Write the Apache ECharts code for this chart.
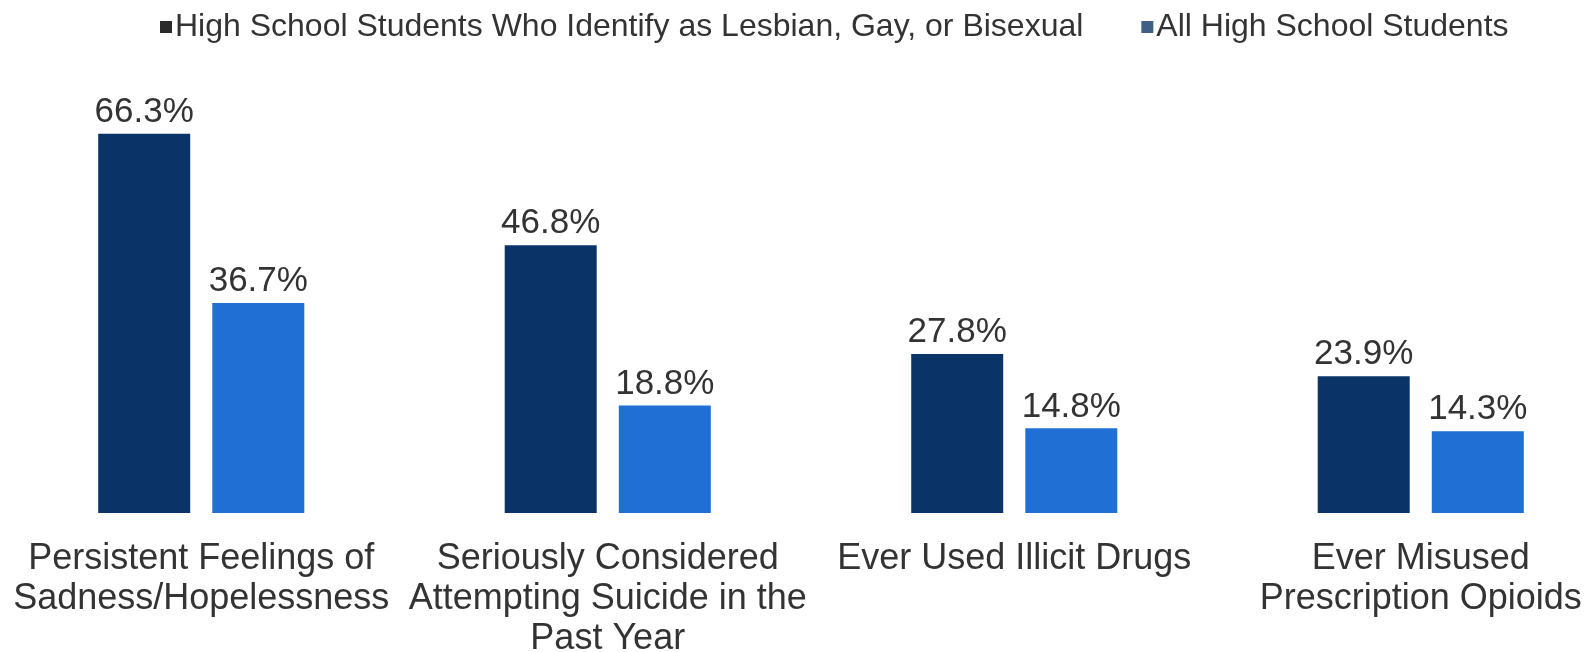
<!DOCTYPE html>
<html>
<head>
<meta charset="utf-8">
<script src="https://cdn.jsdelivr.net/npm/echarts@6/dist/echarts.min.js"></script>
<style>
  html, body { margin: 0; padding: 0; background: #ffffff; overflow: hidden; }
  #chart { width: 1589px; height: 652px; }
</style>
</head>
<body>
<div id="chart"></div>
<script>
// Risk behaviours: LGB high school students vs. all high school students (%)
const categories = [
  'Persistent Feelings of\nSadness/Hopelessness',
  'Seriously Considered\nAttempting Suicide in the\nPast Year',
  'Ever Used Illicit Drugs',
  'Ever Misused\nPrescription Opioids'
];
const seriesNames = [
  'High School Students Who Identify as Lesbian, Gay, or Bisexual',
  'All High School Students'
];
const lgbValues = [66.3, 46.8, 27.8, 23.9];
const allValues = [36.7, 18.8, 14.8, 14.3];

const textColor = '#333333';
const font = '"Liberation Sans", Arial, sans-serif';

const chart = echarts.init(document.getElementById('chart'));

const valueLabel = {
  show: true,
  position: 'top',
  distance: 4,
  color: textColor,
  fontFamily: font,
  fontSize: 35,
  formatter: p => p.value.toFixed(1) + '%'
};

chart.setOption({
  animation: false,
  backgroundColor: '#ffffff',
  legend: {
    left: 155,
    top: 6,
    itemWidth: 12,
    itemHeight: 12,
    itemGap: 58,
    icon: 'rect',
    textStyle: {
      color: textColor,
      fontFamily: font,
      fontSize: 32,
      padding: [0, 0, 0, -2]
    },
    data: [
      { name: seriesNames[0], itemStyle: { color: '#2b2b2b' } },
      { name: seriesNames[1], itemStyle: { color: '#3f5f86' } }
    ]
  },
  grid: {
    left: -2,
    width: 1626,
    top: 55.4,
    height: 457.6,
    containLabel: false,
    outerBoundsMode: 'none'
  },
  xAxis: {
    type: 'category',
    data: categories,
    axisLine: { show: false },
    axisTick: { show: false },
    axisLabel: {
      interval: 0,
      margin: 26,
      color: textColor,
      fontFamily: font,
      fontSize: 36,
      lineHeight: 40
    }
  },
  yAxis: {
    type: 'value',
    min: 0,
    max: 80,
    show: false,
    splitLine: { show: false }
  },
  series: [
    {
      name: seriesNames[0],
      type: 'bar',
      data: lgbValues,
      barWidth: 92,
      barGap: '24%',
      itemStyle: { color: '#0a3468' },
      label: valueLabel
    },
    {
      name: seriesNames[1],
      type: 'bar',
      data: allValues,
      barWidth: 92,
      itemStyle: { color: '#1f6fd4' },
      label: valueLabel
    }
  ]
});
</script>
</body>
</html>
